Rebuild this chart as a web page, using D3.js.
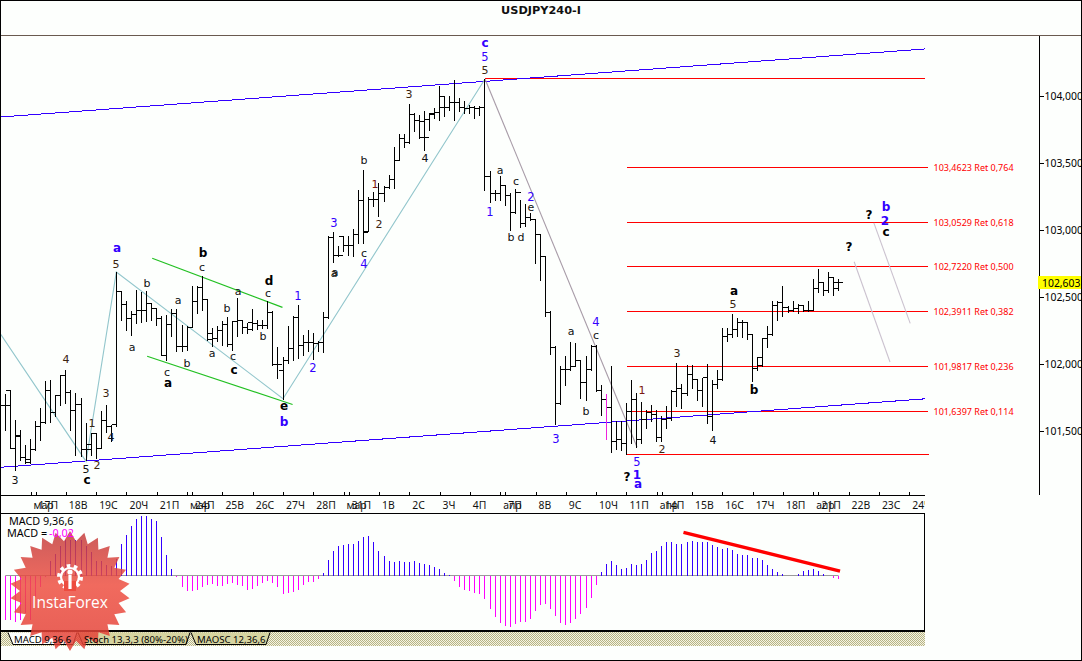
<!DOCTYPE html>
<html><head><meta charset="utf-8">
<style>html,body{margin:0;padding:0;background:#fdfffd;overflow:hidden}svg{display:block}</style>
<script src="https://cdn.jsdelivr.net/npm/d3@7/dist/d3.min.js"></script></head><body>
<script>
const highs=[101.776,101.806,101.582,101.507,101.395,101.437,101.569,101.669,101.868,101.875,
101.768,101.918,101.950,101.806,101.781,101.743,101.557,101.482,101.482,101.644,
101.694,101.544,102.684,102.539,102.465,102.390,102.552,102.532,102.539,102.452,
102.415,102.353,102.365,102.408,102.408,102.291,102.278,102.577,102.577,102.656,
102.477,102.266,102.278,102.316,102.348,102.316,102.490,102.328,102.303,102.408,
102.328,102.328,102.465,102.390,102.124,102.049,102.283,102.358,102.440,102.216,
102.253,102.228,102.166,102.383,102.955,102.983,102.876,102.950,102.955,103.005,
103.299,103.448,103.244,103.279,103.348,103.323,103.411,103.617,103.717,103.717,
103.940,103.871,103.858,103.888,103.871,103.908,104.075,103.995,103.995,104.119,
103.983,103.958,103.933,103.920,103.920,104.124,103.435,103.298,103.398,103.336,
103.274,103.304,103.224,103.194,103.124,103.075,102.963,102.806,102.391,102.130,
101.980,102.055,102.162,102.155,102.018,102.055,102.142,102.142,101.843,101.776,
101.980,101.569,101.569,101.706,101.875,101.781,101.713,101.656,101.694,101.656,
101.607,101.681,101.801,102.005,101.850,101.992,101.992,101.885,101.893,102.000,
101.880,101.950,102.266,102.266,102.373,102.340,102.328,102.303,102.216,102.049,
102.191,102.278,102.470,102.465,102.577,102.427,102.465,102.447,102.440,102.465,
102.634,102.706,102.607,102.681,102.639,102.631];
const lows=[101.507,101.370,101.209,101.283,101.258,101.258,101.358,101.432,101.557,101.562,
101.607,101.694,101.706,101.507,101.320,101.308,101.278,101.320,101.296,101.370,
101.487,101.420,101.532,102.328,102.253,102.216,102.303,102.308,102.316,102.328,
102.291,102.067,102.024,102.204,102.092,102.092,102.104,102.278,102.378,102.403,
102.179,102.134,102.166,102.141,102.129,102.104,102.204,102.228,102.228,102.253,
102.258,102.266,102.266,101.992,101.893,101.738,102.005,102.029,102.042,102.067,
102.092,102.034,102.092,102.087,102.343,102.756,102.801,102.838,102.814,102.801,
102.901,102.901,102.988,103.179,103.100,103.212,103.311,103.311,103.522,103.617,
103.647,103.734,103.684,103.592,103.746,103.833,103.821,103.846,103.896,103.821,
103.883,103.871,103.871,103.833,103.858,103.298,103.204,103.219,103.219,103.187,
103.000,103.124,103.020,103.025,103.070,102.752,102.622,102.354,102.072,101.552,
101.695,101.844,101.955,101.980,101.744,101.727,101.955,101.794,101.619,101.607,
101.338,101.363,101.358,101.328,101.408,101.378,101.408,101.519,101.569,101.425,
101.420,101.519,101.582,101.686,101.669,101.768,101.818,101.731,101.686,101.557,
101.502,101.818,101.880,102.166,102.199,102.204,102.199,102.186,101.868,101.955,
101.985,102.124,102.211,102.328,102.358,102.383,102.390,102.378,102.390,102.390,
102.398,102.534,102.510,102.532,102.515,102.552];
const opens=[101.689,101.801,101.370,101.457,101.296,101.263,101.358,101.532,101.557,101.801,
101.636,101.761,101.910,101.786,101.651,101.694,101.358,101.395,101.477,101.370,
101.577,101.527,101.544,102.539,102.440,102.333,102.365,102.398,102.398,102.447,
102.408,102.340,102.059,102.291,102.373,102.129,102.129,102.273,102.465,102.569,
102.477,102.179,102.191,102.248,102.291,102.141,102.316,102.320,102.266,102.303,
102.298,102.283,102.283,102.383,101.992,101.950,102.024,102.109,102.345,102.134,
102.161,102.161,102.149,102.161,102.343,102.938,102.806,102.945,102.881,102.881,
102.963,103.216,102.988,103.224,103.224,103.269,103.311,103.373,103.518,103.677,
103.647,103.858,103.816,103.691,103.821,103.866,103.876,103.908,103.908,103.945,
103.945,103.908,103.901,103.908,103.901,103.908,103.398,103.269,103.269,103.328,
103.254,103.129,103.274,103.045,103.087,103.075,102.963,102.801,102.383,102.122,
101.700,101.955,101.955,101.980,102.023,101.856,101.955,102.130,101.801,101.731,
101.669,101.420,101.432,101.403,101.644,101.731,101.432,101.582,101.636,101.619,
101.445,101.582,101.594,101.793,101.811,101.776,101.918,101.880,101.801,101.893,
101.607,101.843,101.880,102.199,102.216,102.253,102.303,102.303,102.216,101.967,
102.042,102.191,102.216,102.432,102.457,102.415,102.398,102.408,102.435,102.398,
102.398,102.559,102.602,102.547,102.639,102.607];
const closes=[101.689,101.370,101.462,101.296,101.283,101.358,101.532,101.557,101.801,101.636,
101.761,101.910,101.786,101.651,101.694,101.358,101.358,101.477,101.370,101.577,
101.527,101.544,102.539,102.440,102.333,102.365,102.398,102.398,102.447,102.408,
102.340,102.059,102.291,102.373,102.129,102.129,102.273,102.465,102.569,102.477,
102.228,102.191,102.248,102.291,102.141,102.316,102.320,102.266,102.258,102.298,
102.283,102.283,102.383,101.992,101.992,102.024,102.109,102.345,102.134,102.161,
102.161,102.149,102.161,102.345,102.938,102.806,102.806,102.881,102.881,102.963,
103.216,102.980,103.224,103.224,103.269,103.311,103.373,103.518,103.677,103.647,
103.858,103.816,103.808,103.684,103.858,103.876,103.995,103.908,103.945,103.945,
103.908,103.901,103.908,103.901,103.908,103.398,103.269,103.269,103.328,103.254,
103.129,103.274,103.045,103.087,103.075,102.963,102.801,102.383,102.122,101.700,
101.955,101.955,101.980,102.023,101.856,101.955,102.130,101.801,101.731,101.669,
101.420,101.432,101.403,101.644,101.731,101.432,101.582,101.636,101.619,101.445,
101.582,101.594,101.793,101.811,101.776,101.918,101.880,101.801,101.893,101.607,
101.843,101.880,102.199,102.216,102.253,102.303,102.303,102.216,101.967,101.985,
102.191,102.216,102.432,102.457,102.415,102.398,102.408,102.435,102.398,102.398,
102.559,102.602,102.547,102.639,102.564,102.603];
const macd=[-.266,-.266,-.276,-.266,-.226,-.266,-.126,-.066,-.006,.09,
.13,.18,.216,.216,.216,.216,.18,.14,.09,.09,
.066,.06,.1,.19,.246,.298,.34,.356,.356,.34,
.33,.23,.124,.04,-.01,-.066,-.09,-.09,-.084,-.066,
-.054,-.048,-.06,-.064,-.048,-.044,-.054,-.06,-.084,-.08,
-.064,-.044,-.034,-.044,-.07,-.11,-.104,-.1,-.084,-.054,
-.04,-.04,-.02,.016,.094,.146,.176,.186,.19,.19,
.21,.23,.236,.2,.15,.116,.086,.08,.09,.08,
.08,.086,.074,.068,.062,.05,.04,.014,.002,-.03,
-.066,-.084,-.09,-.104,-.11,-.14,-.2,-.246,-.282,-.3,
-.306,-.29,-.276,-.276,-.26,-.212,-.174,-.17,-.2,-.24,
-.286,-.294,-.282,-.26,-.23,-.194,-.134,-.056,.02,.07,
.088,.064,.04,.046,.07,.064,.07,.094,.136,.146,
.178,.202,.202,.19,.19,.202,.208,.202,.202,.202,
.184,.172,.16,.166,.154,.13,.124,.124,.106,.106,
.094,.064,.04,.022,.01,.001,-.002,.01,.028,.034,
.04,.028,.01,-.004,-.012,-.02];

const priceTicks=[104,103.5,103,102.5,102,101.5];
const lastPrice=102.603;
const retLevels=[103.4623,103.0529,102.7220,102.3911,101.9817,101.6397];
const retRatios=["0,764","0,618","0,500","0,382","0,236","0,114"];
const dayTickBars=[7,13,19,25,31,38,44,50,56,62,69,75,81,87,93,100,106,112,118,124,131,137,143,149,155,162,168,174,180];
const dayTickLabels=["17П","18В","19С","20Ч","21П","24П","25В","26С","27Ч","28П","31П","1В","2С","3Ч","4П","7П","8В","9С","10Ч","11П","14П","15В","16С","17Ч","18П","21П","22В","23С","24Ч"];
const monthTickBars=[6,37,68,99,130,161];
const monthTickLabels=["мар","мар","мар","апр","апр","апр"];
const tabNames=["MACD 9,36,6","Stoch 13,3,3 (80%-20%)","MAOSC 12,36,6"];

// trend lines: [bar, price, bar, price]
const channelLines=[[0,103.84,183.1,104.348],[0,101.226,183.1,101.737]];
const greenLines=[[30.1,102.786,55.9,102.42],[29.1,102.055,57.9,101.695]];
const waveLines=[[0,102.225],[17,101.27],[23,102.684],[56,101.738],[96,104.124]];
const fallLine=[96,104.124,126.1,101.378];
const projLines=[[169.1,102.76,176.2,102.012],[173,103.05,180.2,102.30]];
const macdTrend=[135.3,.26,166.3,.028];

// wave labels: text, x, y, kind
const waveText=[
["3",15,480,"k"],["4",66,359,"d"],["a",117,248,"B"],["5",116,264,"d"],["b",147,283,"k"],["a",132,347,"k"],["c",167,372,"k"],["a",168,383,"K"],
["b",187,363,"k"],["a",178,300,"k"],["b",203,253,"K"],["c",202,267,"k"],["a",212,353,"k"],["a",238,291,"k"],["b",227,308,"k"],["c",233,356,"k"],
["c",234,370,"K"],["d",269,281,"K"],["c",268,293,"k"],["b",263,336,"k"],["1",298,296,"b"],["2",313,368,"b"],["e",284,406,"K"],["b",284,422,"B"],
["5",86,469,"k"],["c",87,480,"K"],["2",97,465,"d"],["1",92,423,"d"],["3",106,393,"d"],["4",111,437,"k"],["a",335,272,"k"],
["3",334,223,"b"],["a",334,273,"k"],["b",364,160,"k"],["1",375,184,"r"],["2",379,224,"d"],["c",364,253,"k"],["4",364,264,"b"],["4",425,158,"k"],
["c",485,43,"B"],["5",485,57,"b"],["5",485,70,"d"],["3",409,94,"d"],["1",490,212,"b"],["a",500,170,"k"],["c",516,181,"k"],["2",531,197,"b"],["e",531,207,"k"],["b",511,237,"k"],["d",521,237,"k"],
["a",571,331,"k"],["4",596,322,"b"],["c",596,335,"k"],["b",586,411,"k"],["3",556,439,"b"],["1",642,390,"r"],["3",677,353,"d"],["2",662,449,"d"],["4",713,440,"k"],
["5",733,304,"d"],["a",734,291,"K"],["b",754,390,"K"],["5",637,462,"b"],["1",637,475,"B"],["a",638,484,"B"],["?",627,477,"K"],
["?",869,215,"K"],["?",849,247,"K"],["b",886,207,"B"],["2",885,221,"B"],["c",886,232,"K"]];

const W=1082,H=661,FONT='"DejaVu Sans",sans-serif',TXT='"Noto Sans",sans-serif';
const x=d3.scaleLinear().domain([0,166]).range([0.2,838.5]);
const y=d3.scaleLinear().domain([104,101.5]).range([95.6,430.6]);
const ym=d3.scaleLinear().domain([0,.3]).range([575.7,525.7]);
const snap=v=>Math.floor(v)+.5;
const svg=d3.select("body").append("svg").attr("width",W).attr("height",H).attr("viewBox",`0 0 ${W} ${H}`);
const defs=svg.append("defs");
const pat=defs.append("pattern").attr("id","hatch").attr("width",2).attr("height",2).attr("patternUnits","userSpaceOnUse");
pat.append("rect").attr("width",2).attr("height",2).attr("fill","#f4f4e4");
pat.append("rect").attr("width",1).attr("height",1).attr("fill","#b8b484");
pat.append("rect").attr("x",1).attr("y",1).attr("width",1).attr("height",1).attr("fill","#b8b484");
defs.append("clipPath").attr("id","pane").append("rect").attr("x",1).attr("y",36).attr("width",1038).attr("height",459);
defs.append("clipPath").attr("id","xclip").append("rect").attr("x",0).attr("y",480).attr("width",925).attr("height",32);
const badgeGrad=defs.append("linearGradient").attr("id","badge").attr("x1",0).attr("y1",0).attr("x2",0).attr("y2",1);
badgeGrad.append("stop").attr("offset",0).attr("stop-color","#c23c3c");
badgeGrad.append("stop").attr("offset",.45).attr("stop-color","#ee4e40");
badgeGrad.append("stop").attr("offset",1).attr("stop-color","#e23e34");

svg.append("rect").attr("width",W).attr("height",H).attr("fill","#fdfffd");
svg.append("text").attr("x",541).attr("y",14).attr("text-anchor","middle").attr("font-family",FONT).attr("font-weight","bold").attr("font-size",11.3).attr("fill","#111").text("USDJPY240-I");
svg.append("line").attr("x1",0).attr("x2",1081).attr("y1",35.5).attr("y2",35.5).attr("stroke","#6a5a50");

const pane=svg.append("g").attr("clip-path","url(#pane)");
const seg=(g,a,col,w)=>g.append("line").attr("x1",x(a[0])).attr("y1",y(a[1])).attr("x2",x(a[2])).attr("y2",y(a[3])).attr("stroke",col).attr("stroke-width",w||1);

// horizontal levels
const red="#ff0000";
const hLine=(p,a,b)=>pane.append("line").attr("x1",x(a)).attr("x2",x(b)).attr("y1",snap(y(p))).attr("y2",snap(y(p))).attr("stroke",red).attr("shape-rendering","crispEdges");
hLine(104.131,96,183.1);
retLevels.forEach(p=>hLine(p,124.1,183.8));
hLine(101.323,124.1,183.9);
retLevels.forEach((p,i)=>pane.append("text").attr("x",933.5).attr("y",y(p)+3.6).attr("font-family",TXT).attr("font-size",9).attr("fill",red)
  .text(`${p.toFixed(4).replace(".",",")} Ret ${retRatios[i]}`));

channelLines.forEach(a=>seg(pane,a,"#3300ff",1).attr("shape-rendering","crispEdges"));
greenLines.forEach(a=>seg(pane,a,"#22c022",1.2));
pane.append("path").attr("d",d3.line().x(d=>x(d[0])).y(d=>y(d[1]))(waveLines)).attr("fill","none").attr("stroke","#92c6cc").attr("stroke-width",1.1);
seg(pane,fallLine,"#a89ca8",1.1);
projLines.forEach(a=>seg(pane,a,"#cbc2cf",1.1));

// OHLC bars
const bars=pane.append("g").attr("stroke","#000").attr("stroke-width",1).attr("shape-rendering","crispEdges");
highs.forEach((h,i)=>{
  const b=i+1, cx=snap(x(b));
  bars.append("line").attr("x1",cx).attr("x2",cx).attr("y1",Math.round(y(h))).attr("y2",Math.round(y(lows[i]))+1);
  bars.append("line").attr("x1",cx-4.5).attr("x2",cx).attr("y1",snap(y(opens[i]))).attr("y2",snap(y(opens[i])));
  bars.append("line").attr("x1",cx).attr("x2",cx+4.5).attr("y1",snap(y(closes[i]))).attr("y2",snap(y(closes[i])));
});
pane.append("line").attr("x1",snap(x(120))).attr("x2",snap(x(120))).attr("y1",y(101.775)).attr("y2",y(101.43)).attr("stroke","#ee22dd").attr("shape-rendering","crispEdges");

// wave labels
const kinds={k:["#111",false,11],d:["#3a2410",false,11],r:["#7a1a10",false,11],b:["#3300ff",false,11.5],B:["#3300ff",true,12],K:["#000",true,12]};
waveText.forEach(([t,px,py,k])=>{
  const [c,bold,fs]=kinds[k];
  pane.append("text").attr("x",px).attr("y",py+4).attr("text-anchor","middle").attr("font-family",FONT).attr("font-size",fs).attr("font-weight",bold?"bold":"normal").attr("fill",c).text(t);
});

// price axis
const yAxis=d3.axisRight(y).tickValues(priceTicks).tickSize(4).tickPadding(1).tickFormat(d=>d.toFixed(3).replace(".",","));
const gy=svg.append("g").attr("transform","translate(1039.5,0)").call(yAxis);
gy.select(".domain").remove();
gy.selectAll("line").attr("stroke","#000").attr("shape-rendering","crispEdges");
gy.selectAll("text").attr("font-family",TXT).attr("font-size",10.4).attr("fill","#000").attr("dy","0.4em");
svg.append("line").attr("x1",1039.5).attr("x2",1039.5).attr("y1",36).attr("y2",495).attr("stroke","#000");
svg.append("rect").attr("x",1038).attr("y",y(lastPrice)-6.8).attr("width",43).attr("height",13).attr("fill","#ffff00");
svg.append("text").attr("x",1042).attr("y",y(lastPrice)+4).attr("font-family",TXT).attr("font-size",10.4).attr("fill","#000").text(lastPrice.toFixed(3).replace(".",","));

// time axis
const gx=svg.append("g").attr("clip-path","url(#xclip)");
const axisAt=(vals,labels)=>{
  const a=d3.axisBottom(x).tickValues(vals).tickSize(-4).tickPadding(0).tickFormat(d=>labels[vals.indexOf(d)]);
  const g=gx.append("g").attr("transform","translate(0,495.5)").call(a);
  g.select(".domain").remove();
  g.selectAll("line").attr("stroke","#000").attr("shape-rendering","crispEdges");
  g.selectAll("text").attr("text-anchor","start").attr("x",2.5).attr("y",6).attr("font-family",TXT).attr("font-size",10.4).attr("fill","#111");
};
axisAt(monthTickBars,monthTickLabels);
axisAt(dayTickBars,dayTickLabels);
svg.append("line").attr("x1",0).attr("x2",925).attr("y1",495.5).attr("y2",495.5).attr("stroke","#000");

// MACD pane
svg.append("rect").attr("x",0.5).attr("y",513.5).attr("width",924).attr("height",117).attr("fill","#fdfffd").attr("stroke","#000");
svg.append("line").attr("x1",x(1)).attr("x2",x(166)).attr("y1",snap(ym(0))).attr("y2",snap(ym(0))).attr("stroke","#9a9a9a");
svg.append("g").attr("shape-rendering","crispEdges").selectAll("line").data(macd).join("line")
  .attr("x1",(d,i)=>snap(x(i+1))).attr("x2",(d,i)=>snap(x(i+1))).attr("y1",ym(0)).attr("y2",d=>ym(d))
  .attr("stroke",d=>d>=0?"#3300ff":"#ff00ff");
svg.append("line").attr("x1",x(macdTrend[0])).attr("y1",ym(macdTrend[1])).attr("x2",x(macdTrend[2])).attr("y2",ym(macdTrend[3])).attr("stroke",red).attr("stroke-width",3.4);

// tab strip
svg.append("rect").attr("x",1).attr("y",632).attr("width",924).attr("height",14).attr("fill","url(#hatch)");
svg.append("line").attr("x1",0).attr("x2",925).attr("y1",631).attr("y2",631).attr("stroke","#000").attr("stroke-width",2);
const tabs=[[8,77,"#fdfffd"],[78,190,"#d6d4a0"],[191,270,"#d6d4a0"]];
tabs.slice().reverse().forEach(t=>{
  svg.append("path").attr("d",`M${t[0]},632.5 L${t[0]+5},644.5 L${t[1]-4},644.5 L${t[1]},632.5`).attr("fill",t[2]).attr("stroke","#000");
});

// badge
const badge=svg.append("g").attr("transform","translate(70,591)");
const nPts=26;
const pts=d3.range(nPts*2).map(k=>[k*Math.PI/nPts,k%2?50:60]);
badge.append("path").attr("d",d3.lineRadial().curve(d3.curveLinearClosed)(pts)).attr("fill","url(#badge)").attr("opacity",.84);
const gear=badge.append("g").attr("transform","translate(0,-14)");
gear.append("circle").attr("r",10.5).attr("fill","none").attr("stroke","#fff").attr("stroke-width",5).attr("stroke-dasharray","3.3 3.3");
gear.append("circle").attr("r",9).attr("fill","none").attr("stroke","#fff").attr("stroke-width",2.2);
gear.append("rect").attr("x",-6).attr("y",4).attr("width",12).attr("height",10).attr("fill","#ed4c40");
gear.append("circle").attr("cy",-5).attr("r",2.6).attr("fill","#fff");
gear.append("rect").attr("x",-1.6).attr("y",-2).attr("width",3.2).attr("height",14).attr("fill","#fff");
badge.append("text").attr("y",17).attr("text-anchor","middle").attr("font-family",'"Open Sans",sans-serif').attr("font-size",15.5).attr("fill","#fff").text("InstaForex");

// text over the badge
const tf=(t,px,py,c)=>svg.append("text").attr("x",px).attr("y",py).attr("font-family",TXT).attr("font-size",10.8).attr("fill",c).text(t);
tf("MACD 9,36,6",9,525,"#000");
tf("MACD =",7,537,"#000");
tf(macd[macd.length-1].toFixed(2).replace(".",","),49,537,"#ff00ff");
tabs.forEach((t,i)=>svg.append("text").attr("x",t[0]+6).attr("y",642.5).attr("font-family",TXT).attr("font-size",9.6).attr("fill","#000").text(tabNames[i]));

// outer frame
svg.append("rect").attr("x",0.5).attr("y",0.5).attr("width",1081).attr("height",660).attr("fill","none").attr("stroke","#000");
</script></body></html>
